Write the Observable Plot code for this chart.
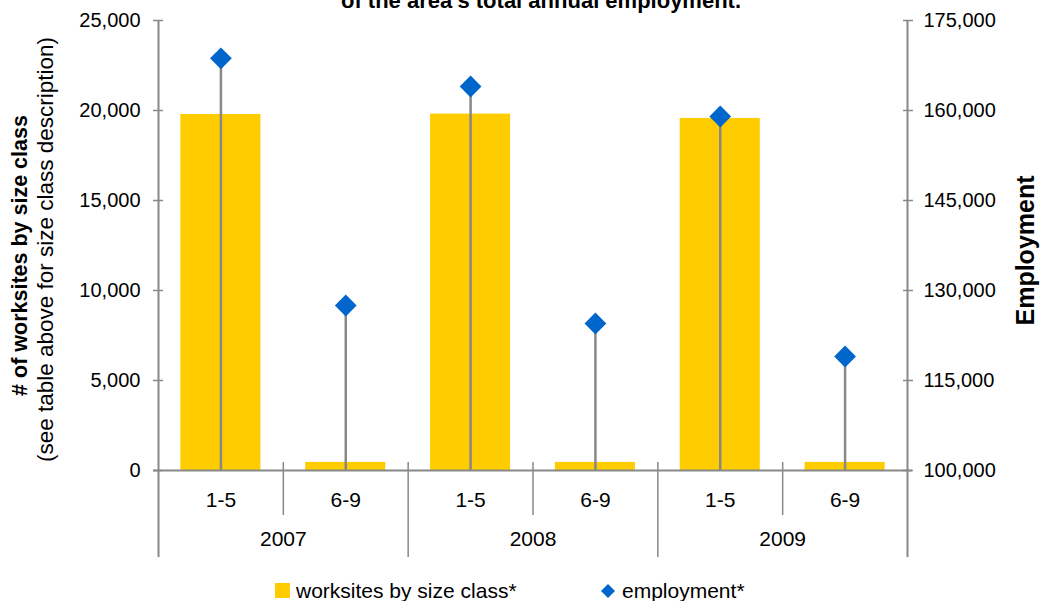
<!DOCTYPE html>
<html>
<head>
<meta charset="utf-8">
<script src="https://cdn.jsdelivr.net/npm/d3@7"></script>
<script src="https://cdn.jsdelivr.net/npm/@observablehq/plot@0.6"></script>
<style>
  body { margin: 0; background: #fff; font-family: "Liberation Sans", Arial, Helvetica, sans-serif; }
  #wrap { position: relative; width: 1040px; height: 601px; overflow: hidden; background: #fff; }
  #title { position: absolute; z-index: 2; left: 0; width: 1082px; top: -8px; text-align: center; font-weight: bold; font-size: 22px; line-height: 18px; white-space: nowrap; color: #000; }
  #chart { position: absolute; z-index: 1; left: 0; top: 0; }
  #legend { position: absolute; top: 580px; left: 0; width: 1040px; height: 21px; font-size: 21px; line-height: 21px; color: #000; }
  .item { position: absolute; top: 0; white-space: nowrap; }
  .sw { position: absolute; }
</style>
</head>
<body>
<div id="wrap">
  <div id="chart"></div>
  <div id="title">of the area's total annual employment.</div>
  <div id="legend">
    <div class="sw" style="left:275px; top:3px; width:15px; height:15px; background:#FFCC00;"></div>
    <div class="item" style="left:296px;">worksites by size class*</div>
    <svg class="sw" style="left:600px; top:3px;" width="16" height="16"><path d="M8,1L15,8L8,15L1,8Z" fill="#0066CC"/></svg>
    <div class="item" style="left:622px;">employment*</div>
  </div>
</div>
<script>
// ---- data ----
const years = ["2007", "2008", "2009"];
const sizeClasses = ["1-5", "6-9"];
const categoryYear = ["2007", "2007", "2008", "2008", "2009", "2009"];
const categorySize = ["1-5", "6-9", "1-5", "6-9", "1-5", "6-9"];
const worksites = [19780, 450, 19800, 450, 19560, 450];
const employment = [168700, 127500, 164000, 124500, 159000, 119000];
const leftTicks = [0, 5000, 10000, 15000, 20000, 25000];
const rightTicks = [100000, 115000, 130000, 145000, 160000, 175000];
const leftDomain = [0, 25000];
const rightDomain = [100000, 175000];

// map employment onto the left (worksites) scale for the secondary axis
const k = (leftDomain[1] - leftDomain[0]) / (rightDomain[1] - rightDomain[0]);
const empToY = e => leftDomain[0] + (e - rightDomain[0]) * k;
const yToEmp = y => rightDomain[0] + (y - leftDomain[0]) / k;

const data = categorySize.map((s, i) => ({
  key: categoryYear[i] + "|" + s,
  year: categoryYear[i],
  size: s,
  worksites: worksites[i],
  employment: employment[i],
  emp: empToY(employment[i])
}));

const W = 1040, H = 575, mL = 158, mR = 133, mT = 20, mB = 105;
const bw = (W - mL - mR) / data.length;
const grey = "#888888";
const fmt = d3.format(",");

const firstOfYear = data.filter(d => d.size === sizeClasses[0]);
const secondOfYear = data.filter(d => d.size === sizeClasses[1]);

const chart = Plot.plot({
  width: W,
  height: H,
  marginLeft: mL,
  marginRight: mR,
  marginTop: mT,
  marginBottom: mB,
  style: { fontFamily: "Liberation Sans, Arial, Helvetica, sans-serif", fontSize: "20px", color: "#000", background: "transparent", overflow: "visible" },
  x: { type: "band", domain: data.map(d => d.key), paddingInner: 0, paddingOuter: 0, round: false },
  y: { domain: leftDomain },
  marks: [
    Plot.barY(data, { x: "key", y: "worksites", fill: "#FFCC00", insetLeft: 22.4, insetRight: 22.4 }),
    // drop lines
    Plot.ruleX(data, { x: "key", y1: 0, y2: "emp", stroke: grey, strokeWidth: 2.5 }),
    // baseline
    Plot.ruleY([0], { stroke: grey, strokeWidth: 2, insetLeft: -5, insetRight: -5 }),
    // left & right axis lines
    Plot.ruleX([data[0]], { x: "key", dx: -bw / 2, stroke: grey, strokeWidth: 2, insetBottom: -87 }),
    Plot.ruleX([data[data.length - 1]], { x: "key", dx: bw / 2, stroke: grey, strokeWidth: 2, insetBottom: -87 }),
    // category separators within a year
    Plot.ruleX(secondOfYear, { x: "key", dx: -bw / 2, stroke: grey, strokeWidth: 1.5, insetTop: 442, insetBottom: -45 }),
    // year separators
    Plot.ruleX(firstOfYear.slice(1), { x: "key", dx: -bw / 2, stroke: grey, strokeWidth: 1.5, insetTop: 442, insetBottom: -87 }),
    // employment markers
    Plot.dot(data, { x: "key", y: "emp", symbol: "diamond2", r: 9.8, fill: "#0066CC", stroke: "none" }),
    // x axis (size classes)
    Plot.axisX({ tickSize: 0, tickPadding: 22, tickFormat: d => d.split("|")[1], fontSize: 21, label: null }),
    // year labels
    Plot.text(firstOfYear, { x: "key", text: "year", frameAnchor: "bottom", dx: bw / 2, dy: 75, fontSize: 21 }),
    // left axis
    Plot.axisY({ ticks: leftTicks, tickSize: 10, dx: 5, tickFormat: () => "", stroke: grey, strokeWidth: 1.5, label: null }),
    Plot.axisY({ ticks: leftTicks, tickSize: 0, tickPadding: 18, tickFormat: fmt, fontSize: 20, label: null }),
    // right axis
    Plot.axisY({ anchor: "right", ticks: rightTicks.map(empToY), tickSize: 10, dx: -5, tickFormat: () => "", stroke: grey, strokeWidth: 1.5, label: null }),
    Plot.axisY({ anchor: "right", ticks: rightTicks.map(empToY), tickSize: 0, tickPadding: 16, tickFormat: y => fmt(Math.round(yToEmp(y))), fontSize: 20, label: null }),
    // axis titles
    Plot.text(["# of worksites by size class"], { text: d => d, frameAnchor: "left", textAnchor: "middle", lineAnchor: "middle", rotate: -90, dx: -138, dy: 10, fontWeight: "bold", fontSize: 21.5 }),
    Plot.text(["(see table above for size class description)"], { text: d => d, frameAnchor: "left", textAnchor: "middle", lineAnchor: "middle", rotate: -90, dx: -113, dy: 4, fontSize: 22.5 }),
    Plot.text(["Employment"], { text: d => d, frameAnchor: "right", textAnchor: "middle", lineAnchor: "middle", rotate: -90, dx: 118, dy: 5, fontWeight: "bold", fontSize: 25 })
  ]
});
document.getElementById("chart").appendChild(chart);
</script>
</body>
</html>
